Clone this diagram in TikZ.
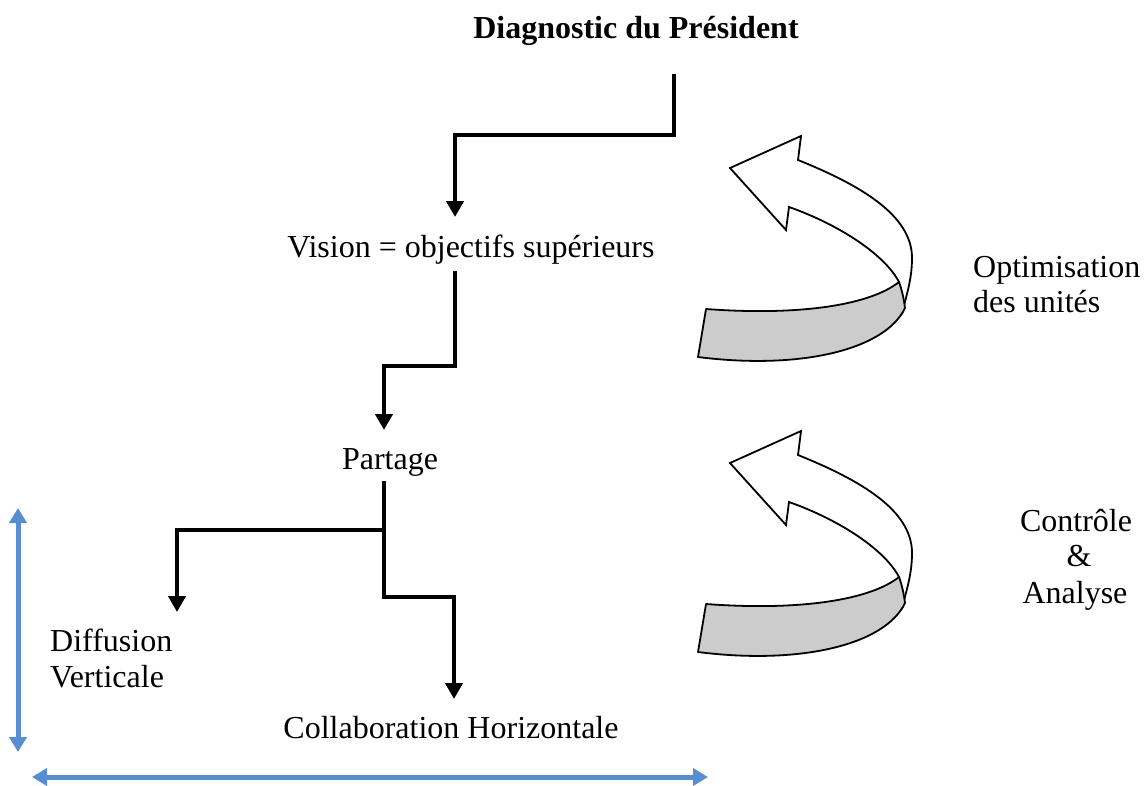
\documentclass[tikz,border=0pt]{standalone}
\usepackage{fontspec}
\setmainfont{Liberation Serif}
\usetikzlibrary{arrows.meta}
\definecolor{bluearrow}{RGB}{86,141,211}
\definecolor{bandgray}{RGB}{204,204,204}
\tikzset{
  lbl/.style={inner sep=0pt, font=\fontsize{32}{36}\selectfont},
  ttl/.style={inner sep=0pt, font=\fontsize{32}{36}\selectfont\bfseries},
  conn/.style={line width=4.7pt, -{Triangle[length=16pt,width=17pt]}},
  dblarrow/.style={draw=bluearrow, line width=5pt, {Triangle[length=15pt,width=17pt]}-{Triangle[length=15pt,width=17pt]}},
  curvarrow/.pic={
    \filldraw[fill=white, draw=black, line width=1.8pt, line join=miter]
      (730,168) -- (801,136) -- (798,160)
      .. controls (860,185) and (912,215) .. (912,258)
      .. controls (912,280) and (906,296) .. (903,310)
      -- (899,282)
      .. controls (885,255) and (840,225) .. (789,207)
      -- (786,230) -- cycle;
    \filldraw[fill=bandgray, draw=black, line width=1.8pt, line join=round]
      (706,309) .. controls (800,316) and (870,305) .. (899,282)
      .. controls (902,290) and (904,300) .. (905,308)
      .. controls (885,350) and (800,370) .. (698,357) -- cycle;
  }
}
\begin{document}
\begin{tikzpicture}[x=1pt,y=-1pt]
\useasboundingbox (0,0) rectangle (1145,785);

% texts
\node[ttl, anchor=base] (diag) at (636,38) {Diagnostic du Président};
\node[lbl, anchor=base] (vision) at (471,257) {Vision = objectifs supérieurs};
\node[lbl, anchor=base] (partage) at (390,469) {Partage};
\node[lbl, anchor=base west] (diff1) at (50,651) {Diffusion};
\node[lbl, anchor=base west] (diff2) at (50,687) {Verticale};
\node[lbl, anchor=base] (collab) at (451,738) {Collaboration Horizontale};
\node[lbl, anchor=base west] (opt1) at (973,277) {Optimisation};
\node[lbl, anchor=base west] (opt2) at (973,312) {des unités};
\node[lbl, anchor=base] (ctl1) at (1076,531) {Contrôle};
\node[lbl, anchor=base] (ctl2) at (1079,566) {\&};
\node[lbl, anchor=base] (ctl3) at (1075,603) {Analyse};

% connector anchor points
\coordinate (d0) at (674,74);
\coordinate (vin) at (455,217);
\coordinate (vout) at (455,271);
\coordinate (pin) at (384,430);
\coordinate (pout) at (384,481);
\coordinate (branch) at (384,530);
\coordinate (din) at (177,612);
\coordinate (cin) at (454,699);

% connectors
\draw[conn] (d0) |- (455,135) -- (vin);
\draw[conn] (vout) |- (384,366) -- (pin);
\draw[conn] (pout) |- (454,597) -- (cin);
\draw[conn] (branch) -| (din);

% blue double arrows
\coordinate (vtop) at (18,508);
\coordinate (vbot) at (18,752);
\coordinate (hleft) at (32,777);
\coordinate (hright) at (708,777);
\draw[dblarrow] (vtop) -- (vbot);
\draw[dblarrow] (hleft) -- (hright);

% curved arrows
\pic (arrowA) at (0,0) {curvarrow};
\pic (arrowB) at (0,295) {curvarrow};
\end{tikzpicture}
\end{document}
